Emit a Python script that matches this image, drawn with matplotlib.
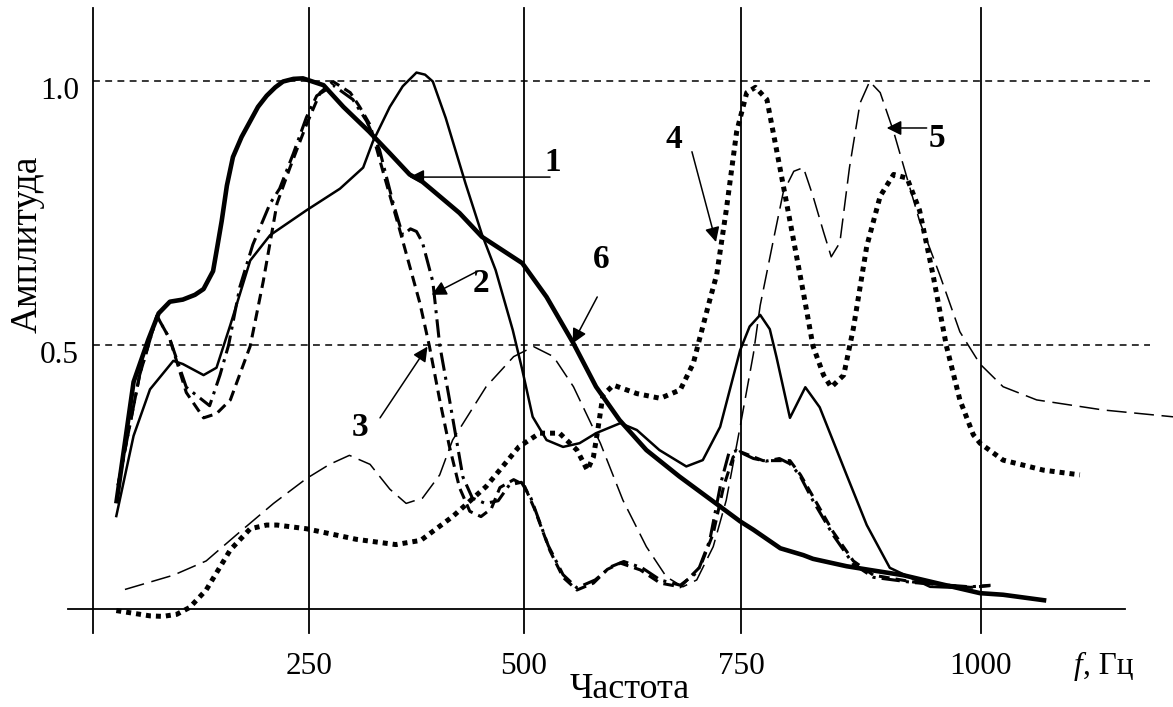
import numpy as np
import matplotlib.pyplot as plt

plt.rcParams['font.family'] = ['Liberation Serif', 'DejaVu Serif']

# кривая 1 (тонкая сплошная)
f1 = [27, 47, 66, 93, 104, 128, 143, 159, 182, 205, 247, 286, 313, 324, 344, 359, 375,
      385, 394, 409, 432, 451, 467, 487, 498, 510, 526, 545, 564, 583, 611, 630, 656, 687,
      706, 726, 749, 759, 770, 780, 787, 801, 817, 832, 860, 881, 905, 947, 975]
a1 = [0.176, 0.328, 0.416, 0.470, 0.464, 0.443, 0.457, 0.538, 0.660, 0.708, 0.755, 0.796,
      0.836, 0.884, 0.951, 0.990, 1.016, 1.012, 0.999, 0.930, 0.806, 0.710, 0.642, 0.528,
      0.453, 0.364, 0.320, 0.307, 0.314, 0.333, 0.352, 0.339, 0.301, 0.270, 0.282, 0.345,
      0.490, 0.535, 0.557, 0.530, 0.477, 0.362, 0.420, 0.382, 0.254, 0.159, 0.078, 0.042,
      0.040]

# кривая 2 (штрих-пунктир)
f2 = [29, 54, 74, 89, 108, 135, 147, 157, 170, 185, 205, 216, 232, 247, 259, 278, 301,
      317, 332, 348, 359, 368, 375, 382, 394, 402, 413, 429, 440, 455, 470, 483, 497,
      508, 528, 545, 561, 582, 600, 615, 636, 657, 680, 700, 714, 727, 736, 745, 763,
      776, 790, 801, 811, 825, 846, 867, 888, 930, 989, 1010]
a2 = [0.234, 0.443, 0.555, 0.511, 0.420, 0.385, 0.443, 0.500, 0.610, 0.690, 0.768, 0.796,
      0.863, 0.931, 0.972, 0.992, 0.965, 0.924, 0.870, 0.768, 0.708, 0.720, 0.715, 0.694,
      0.620, 0.500, 0.400, 0.250, 0.210, 0.200, 0.205, 0.235, 0.240, 0.210, 0.120, 0.065,
      0.040, 0.055, 0.080, 0.090, 0.078, 0.055, 0.045, 0.070, 0.130, 0.240, 0.295, 0.300,
      0.285, 0.280, 0.285, 0.275, 0.254, 0.205, 0.140, 0.085, 0.060, 0.050, 0.042, 0.045]

# кривая 3 (штриховая)
f3 = [29, 54, 74, 89, 108, 128, 143, 159, 182, 197, 213, 228, 247, 263, 278, 298, 309,
      321, 336, 355, 379, 390, 402, 413, 425, 437, 450, 462, 472, 488, 500, 512, 530,
      545, 561, 580, 596, 611, 634, 657, 680, 703, 718, 730, 741, 749, 773, 801, 812,
      825, 846, 867, 888, 930, 989, 1015]
a3 = [0.234, 0.443, 0.555, 0.511, 0.410, 0.362, 0.370, 0.396, 0.498, 0.620, 0.768, 0.836,
      0.917, 0.978, 0.999, 0.978, 0.951, 0.917, 0.829, 0.721, 0.579, 0.498, 0.396, 0.310,
      0.230, 0.185, 0.175, 0.190, 0.230, 0.245, 0.235, 0.190, 0.110, 0.060, 0.036, 0.049,
      0.075, 0.087, 0.074, 0.049, 0.042, 0.080, 0.143, 0.232, 0.288, 0.298, 0.281, 0.281,
      0.254, 0.213, 0.146, 0.091, 0.064, 0.051, 0.041, 0.045]

# кривая 4 (пунктир точками)
f4 = [27, 66, 81, 97, 112, 131, 159, 182, 201, 213, 247, 305, 351, 380, 417, 456, 494,
      518, 541, 561, 573, 580, 585, 591, 603, 630, 657, 680, 695, 703, 714, 722, 733,
      745, 756, 765, 777, 787, 801, 815, 825, 836, 844, 857, 867, 881, 895, 909, 923,
      936, 950, 964, 978, 992, 999, 1023, 1065, 1103]
a4 = [-0.003, -0.013, -0.014, -0.010, 0.003, 0.036, 0.112, 0.152, 0.159, 0.159, 0.152,
      0.132, 0.122, 0.130, 0.175, 0.232, 0.307, 0.333, 0.333, 0.301, 0.263, 0.288, 0.339,
      0.405, 0.424, 0.408, 0.399, 0.415, 0.465, 0.516, 0.585, 0.633, 0.755, 0.904, 0.978,
      0.988, 0.965, 0.870, 0.735, 0.599, 0.498, 0.443, 0.420, 0.443, 0.531, 0.687, 0.782,
      0.823, 0.816, 0.755, 0.633, 0.498, 0.396, 0.330, 0.314, 0.282, 0.263, 0.254]

# кривая 5 (тонкая штриховая)
f5 = [37, 93, 131, 170, 209, 247, 274, 297, 321, 344, 363, 382, 402, 417, 456, 488, 511,
      534, 557, 588, 614, 641, 664, 683, 699, 718, 733, 749, 763, 770, 784, 794, 805,
      815, 825, 836, 844, 853, 863, 874, 884, 895, 909, 923, 936, 957, 978, 999, 1023,
      1058, 1127, 1200]
a5 = [0.037, 0.064, 0.091, 0.146, 0.200, 0.247, 0.274, 0.291, 0.274, 0.227, 0.200, 0.210,
      0.254, 0.320, 0.421, 0.478, 0.497, 0.478, 0.421, 0.314, 0.206, 0.118, 0.061, 0.042,
      0.055, 0.118, 0.206, 0.345, 0.484, 0.575, 0.701, 0.789, 0.829, 0.836, 0.782, 0.714,
      0.667, 0.694, 0.836, 0.958, 0.999, 0.978, 0.904, 0.816, 0.735, 0.633, 0.525, 0.464,
      0.421, 0.396, 0.377, 0.364]

# кривая 6 (жирная сплошная)
f6 = [27, 47, 64, 76, 89, 104, 118, 128, 139, 144, 149, 155, 162, 172, 182, 191, 201,
      211, 220, 232, 243, 267, 290, 320, 344, 367, 382, 393, 425, 451, 498, 526, 557,
      583, 610, 641, 679, 726, 749, 763, 791, 815, 825, 860, 884, 919, 954, 999, 1023,
      1068]
a6 = [0.200, 0.430, 0.510, 0.560, 0.582, 0.586, 0.595, 0.606, 0.640, 0.687, 0.735, 0.802,
      0.856, 0.894, 0.924, 0.951, 0.972, 0.988, 0.999, 1.004, 1.005, 0.992, 0.951, 0.904,
      0.863, 0.823, 0.809, 0.794, 0.750, 0.705, 0.655, 0.591, 0.503, 0.421, 0.358, 0.301,
      0.251, 0.194, 0.166, 0.150, 0.115, 0.102, 0.095, 0.081, 0.074, 0.064, 0.049, 0.030,
      0.027, 0.016]

grid_f = [250, 500, 750, 1000]
grid_a = [0.5, 1.0]
ytick_labels = ['0.5', '1.0']

# шкала частот как на рисунке: последнее деление (750-1000) шире остальных
knots_f = np.array([0, 250, 500, 750, 1000])
knots_u = np.array([0, 216, 431, 648, 888])


def fwd(f):
    f = np.asarray(f, float)
    u = np.interp(f, knots_f, knots_u)
    u = np.where(f < 0, f * 216 / 250, u)
    u = np.where(f > 1000, 888 + (f - 1000) * 240 / 250, u)
    return u


def inv(u):
    u = np.asarray(u, float)
    f = np.interp(u, knots_u, knots_f)
    f = np.where(u < 0, u * 250 / 216, f)
    f = np.where(u > 888, 1000 + (u - 888) * 250 / 240, f)
    return f


fig = plt.figure(figsize=(11.73, 7.07), dpi=100)
ax = fig.add_axes([0, 0, 1, 1])
ax.set_xscale('function', functions=(fwd, inv))
ax.set_xlim(-107.6, 1200)
ax.set_ylim(-0.1856, 1.1534)
ax.axis('off')

# оси и сетка
ax.plot([-29, 1150], [0, 0], color='k', lw=1.3)
for f in [0] + grid_f:
    ax.plot([f, f], [-0.045, 1.138], color='k', lw=1.3)
for a in grid_a:
    ax.plot([0, 1176], [a, a], color='k', lw=1.1, linestyle=(0, (4.5, 3.5)))

# кривые
ax.plot(f5, a5, color='k', lw=1.1, linestyle=(0, (13, 5)))
ax.plot(f4, a4, color='k', lw=3.6, linestyle=(0, (1, 1)), dash_capstyle='butt')
ax.plot(f3, a3, color='k', lw=2.2, linestyle=(0, (3.5, 2)))
ax.plot(f2, a2, color='k', lw=2.2, linestyle=(0, (6, 2, 1, 2)))
ax.plot(f1, a1, color='k', lw=1.8, solid_joinstyle='round')
ax.plot(f6, a6, color='k', lw=3.3, solid_joinstyle='round', solid_capstyle='butt')

# подписи делений
for f in grid_f:
    ax.text(f, -0.123, str(f), ha='center', va='baseline', fontsize=22.5)
for a, lab in zip(grid_a, ytick_labels):
    ax.text(-16, a - 0.0335, lab, ha='right', va='baseline', fontsize=22.5)

ax.text(1106, -0.123, 'f', ha='right', va='baseline', fontsize=22.5, style='italic')
ax.text(1106, -0.123, ', Гц', ha='left', va='baseline', fontsize=22.5)
ax.text(622, -0.168, 'Частота', ha='center', va='baseline', fontsize=26)
ax.text(-76, 0.691, 'Амплитуда', ha='center', va='center', rotation=90, fontsize=27)

# номера кривых со стрелками
arrow = dict(arrowstyle='-|>', color='k', lw=1.1, shrinkA=0, shrinkB=0, mutation_scale=22)
ax.annotate('', xy=(366.8, 0.818), xytext=(530, 0.818), arrowprops=arrow)
ax.annotate('', xy=(392.7, 0.595), xytext=(445, 0.639), arrowprops=arrow)
ax.annotate('', xy=(387.8, 0.497), xytext=(332.6, 0.362), arrowprops=arrow)
ax.annotate('', xy=(721.2, 0.695), xytext=(693.5, 0.866), arrowprops=arrow)
ax.annotate('', xy=(901.8, 0.911), xytext=(943.4, 0.911), arrowprops=arrow)
ax.annotate('', xy=(556.1, 0.503), xytext=(584.4, 0.591), arrowprops=arrow)

bold = dict(ha='center', va='center', fontsize=24, fontweight='bold')
ax.text(533.4, 0.845, '1', **bold)
ax.text(450, 0.617, '2', **bold)
ax.text(309.3, 0.344, '3', **bold)
ax.text(672.2, 0.889, '4', **bold)
ax.text(953.6, 0.892, '5', **bold)
ax.text(588.7, 0.661, '6', **bold)

fig.savefig('out.png', dpi=100)
